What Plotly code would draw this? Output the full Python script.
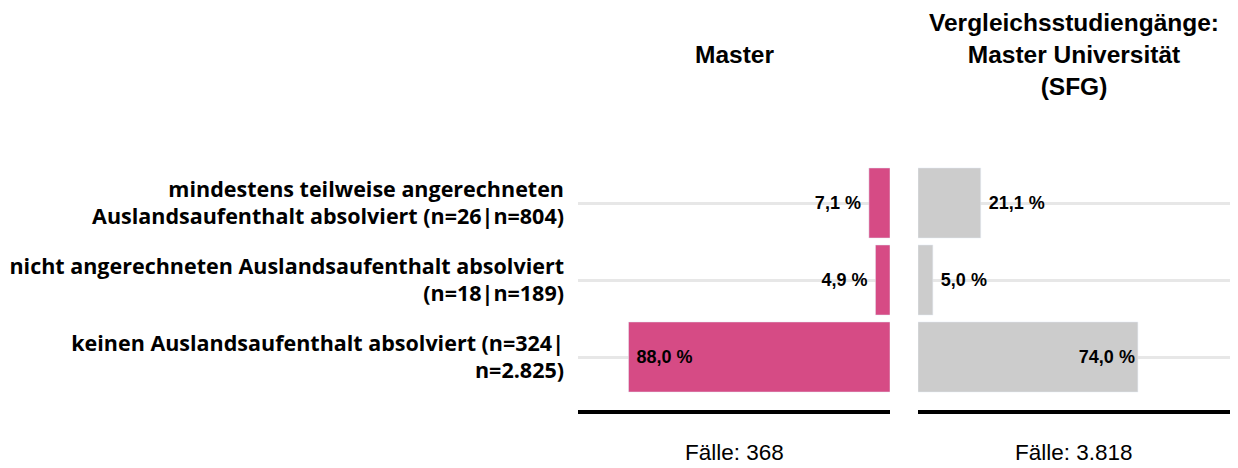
import plotly.graph_objects as go

categories = [
    "mindestens teilweise angerechneten<br>Auslandsaufenthalt absolviert (n=26|n=804)",
    "nicht angerechneten Auslandsaufenthalt absolviert<br>(n=18|n=189)",
    "keinen Auslandsaufenthalt absolviert (n=324|<br>n=2.825)",
]
master_values = [7.1, 4.9, 88.0]
vergleich_values = [21.1, 5.0, 74.0]
master_labels = ["7,1 %", "4,9 %", "88,0 %"]
vergleich_labels = ["21,1 %", "5,0 %", "74,0 %"]
panel_titles = ["Master", "Vergleichsstudiengänge:<br>Master Universität<br>(SFG)"]
case_labels = ["Fälle: 368", "Fälle: 3.818"]

PINK = "rgb(214,75,133)"
GRAY = "rgb(204,204,204)"
OFF = 8  # browser body margin
W, H = 1238 - OFF, 468 - OFF


def px(x):
    return (x - OFF) / W


def py(y):
    return 1 - (y - OFF) / H


xl0, xl1 = px(578), px(890)
xr0, xr1 = px(918), px(1230)
yd0, yd1 = py(395.5), py(164.5)

lab_font = dict(family="Liberation Sans, Arial", size=18, color="black", weight="bold")

fig = go.Figure()
fig.add_trace(go.Bar(
    y=categories, x=master_values, orientation="h", marker_color=PINK,
    text=master_labels, textposition=["outside", "outside", "inside"],
    texttemplate=["%{text} ", "%{text} ", " %{text}"],
    insidetextanchor="end", constraintext="none", cliponaxis=False,
    textfont=lab_font, insidetextfont=lab_font, outsidetextfont=lab_font,
    xaxis="x", yaxis="y", showlegend=False, hoverinfo="skip",
))
fig.add_trace(go.Bar(
    y=categories, x=vergleich_values, orientation="h", marker_color=GRAY,
    text=vergleich_labels, textposition=["outside", "outside", "inside"],
    texttemplate=[" %{text}", " %{text}", "%{text}"],
    insidetextanchor="end", constraintext="none", cliponaxis=False,
    textfont=lab_font, insidetextfont=lab_font, outsidetextfont=lab_font,
    xaxis="x2", yaxis="y2", showlegend=False, hoverinfo="skip",
))

grid = "rgba(215,215,215,0.6)"
fig.update_layout(
    width=W, height=H, margin=dict(l=0, r=0, t=0, b=0),
    paper_bgcolor="white", plot_bgcolor="rgba(0,0,0,0)",
    bargap=0.09,
    xaxis=dict(domain=[xl0, xl1], range=[105, 0], showgrid=False, zeroline=False,
               showticklabels=False, fixedrange=True),
    xaxis2=dict(domain=[xr0, xr1], range=[0, 105], showgrid=False, zeroline=False,
                showticklabels=False, fixedrange=True),
    yaxis=dict(domain=[yd0, yd1], autorange="reversed", anchor="x",
               showgrid=True, gridcolor=grid, gridwidth=3, layer="above traces",
               tickfont=dict(family="Open Sans", size=21.5, color="black", weight="bold"),
               ticklabelstandoff=13, ticks="", zeroline=False),
    yaxis2=dict(domain=[yd0, yd1], autorange="reversed", anchor="x2",
                showgrid=True, gridcolor=grid, gridwidth=3, layer="above traces",
                showticklabels=False, ticks="", zeroline=False),
    font=dict(family="Liberation Sans, Arial", color="black"),
)

line_y = py(412)
for xref in ["x domain", "x2 domain"]:
    fig.add_shape(type="line", xref=xref, yref="paper", x0=0, x1=1, y0=line_y, y1=line_y,
                  line=dict(color="black", width=4))

centers = [(xl0 + xl1) / 2, (xr0 + xr1) / 2]
for cx, t in zip(centers, panel_titles):
    fig.add_annotation(x=cx, y=py(55), xref="paper", yref="paper", text=f"<b>{t}</b>",
                       showarrow=False, xanchor="center", yanchor="middle",
                       font=dict(family="Liberation Sans, Arial", size=24.5, color="black"))
for cx, t in zip(centers, case_labels):
    fig.add_annotation(x=cx, y=py(452), xref="paper", yref="paper", text=t,
                       showarrow=False, xanchor="center", yanchor="middle",
                       font=dict(family="Liberation Sans, Arial", size=22.5, color="black"))

fig.write_html("out.html")
